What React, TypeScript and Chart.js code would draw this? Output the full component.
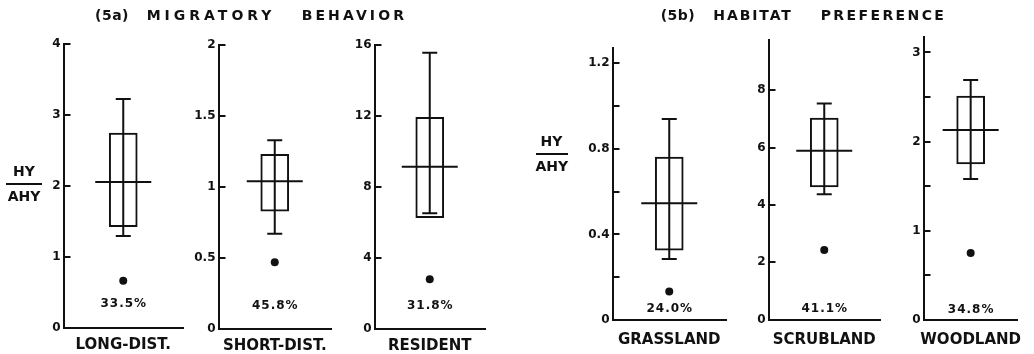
import React, { useEffect, useRef } from 'react';
import { Chart, registerables } from 'chart.js';

Chart.register(...registerables);

// Box-plot summaries of the HY/AHY ratio, one entry per panel
const CATEGORIES = ['LONG-DIST.', 'SHORT-DIST.', 'RESIDENT', 'GRASSLAND', 'SCRUBLAND', 'WOODLAND'];
const WHISKER_LOW = [1.3, 0.67, 6.52, 0.285, 4.37, 1.58];
const BOX_LOW = [1.43, 0.83, 6.27, 0.326, 4.63, 1.75];
const MEDIAN = [2.06, 1.04, 9.14, 0.546, 5.89, 2.13];
const BOX_HIGH = [2.75, 1.23, 11.93, 0.761, 7.03, 2.51];
const WHISKER_HIGH = [3.23, 1.33, 15.57, 0.94, 7.54, 2.69];
const POINT_VALUE = [0.67, 0.47, 2.8, 0.133, 2.43, 0.75];
const PERCENT_LABELS = ['33.5%', '45.8%', '31.8%', '24.0%', '41.1%', '34.8%'];

// Y axes
const Y_MAX = [4, 2, 16, 1.27, 9.75, 3.17];
const Y_TICKS = [
  [0, 1, 2, 3, 4],
  [0, 0.5, 1, 1.5, 2],
  [0, 4, 8, 12, 16],
  [0, 0.2, 0.4, 0.6, 0.8, 1.0, 1.2],
  [0, 2, 4, 6, 8],
  [0, 0.5, 1, 1.5, 2, 2.5, 3],
];
const Y_TICK_LABELS = [
  ['0', '1', '2', '3', '4'],
  ['0', '0.5', '1', '1.5', '2'],
  ['0', '4', '8', '12', '16'],
  ['0', '', '0.4', '', '0.8', '', '1.2'],
  ['0', '2', '4', '6', '8'],
  ['0', '', '1', '', '2', '', '3'],
];

// Page geometry
const W = 1034;
const H = 354;
const INK = '#111';
const FONT = '"DejaVu Sans", sans-serif';
const Y_AXIS_WIDTH = 30;

const PANELS = [
  { left: 63.5, right: 183, top: 44.3, bottom: 328.3, pctOffset: 24, labelPad: 8 },
  { left: 218.5, right: 331, top: 45, bottom: 329, pctOffset: 23, labelPad: 8 },
  { left: 374.5, right: 485, top: 45, bottom: 329, pctOffset: 23, labelPad: 8 },
  { left: 612.5, right: 726, top: 48.3, bottom: 320, pctOffset: 11.5, labelPad: 11 },
  { left: 768.5, right: 880, top: 40, bottom: 319.7, pctOffset: 10.5, labelPad: 11 },
  { left: 923.5, right: 1034, top: 37.3, bottom: 320, pctOffset: 10.5, labelPad: 11 },
];

const BOX_WIDTH = 28;
const CAP_HALF = 7.5;
const MEDIAN_HALF = 28;
const TICK_LEN = 7;

function boxPlotPlugin(i: number, pctOffset: number) {
  return {
    id: 'boxPlotExtras' + i,
    afterDatasetsDraw(chart: any) {
      const { ctx, chartArea, scales } = chart;
      const x = scales.x;
      const y = scales.y;
      const cx = x.getPixelForValue(0);
      const yLo = y.getPixelForValue(WHISKER_LOW[i]);
      const yHi = y.getPixelForValue(WHISKER_HIGH[i]);
      const yMed = y.getPixelForValue(MEDIAN[i]);
      ctx.save();
      ctx.strokeStyle = INK;
      ctx.lineWidth = 2;
      ctx.lineCap = 'butt';
      ctx.beginPath();
      // whisker stem and caps
      ctx.moveTo(cx, yLo);
      ctx.lineTo(cx, yHi);
      ctx.moveTo(cx - CAP_HALF, yHi);
      ctx.lineTo(cx + CAP_HALF, yHi);
      ctx.moveTo(cx - CAP_HALF, yLo);
      ctx.lineTo(cx + CAP_HALF, yLo);
      // median bar
      ctx.moveTo(cx - MEDIAN_HALF, yMed);
      ctx.lineTo(cx + MEDIAN_HALF, yMed);
      ctx.stroke();

      // percentage label
      ctx.fillStyle = INK;
      ctx.font = 'bold 12px ' + FONT;
      (ctx as any).letterSpacing = '1px';
      ctx.textAlign = 'center';
      ctx.textBaseline = 'middle';
      ctx.fillText(PERCENT_LABELS[i], cx + 0.5, chartArea.bottom - pctOffset);
      ctx.restore();
    },
    afterDraw(chart: any) {
      const { ctx, chartArea, scales } = chart;
      const y = scales.y;
      ctx.save();
      ctx.strokeStyle = INK;
      ctx.lineWidth = 2;
      ctx.beginPath();
      for (const v of Y_TICKS[i]) {
        const py = Math.round(y.getPixelForValue(v));
        ctx.moveTo(chartArea.left, py);
        ctx.lineTo(chartArea.left + TICK_LEN, py);
      }
      ctx.stroke();
      ctx.restore();
    },
  };
}

function Panel({ index }: { index: number }) {
  const ref = useRef<HTMLCanvasElement>(null);
  useEffect(() => {
    const p = PANELS[index];
    const chart = new Chart(ref.current as HTMLCanvasElement, {
      type: 'bar',
      data: {
        labels: [CATEGORIES[index]],
        datasets: [
          {
            type: 'bar',
            data: [[BOX_LOW[index], BOX_HIGH[index]]] as any,
            backgroundColor: '#fff',
            borderColor: INK,
            borderWidth: 2,
            borderSkipped: false,
            barThickness: BOX_WIDTH,
          },
          {
            type: 'line',
            data: [POINT_VALUE[index]],
            showLine: false,
            pointRadius: 4,
            pointBackgroundColor: INK,
            pointBorderWidth: 0,
          } as any,
        ],
      },
      options: {
        responsive: false,
        animation: false,
        devicePixelRatio: 1,
        events: [],
        layout: {
          padding: { left: p.left - Y_AXIS_WIDTH, right: W - p.right, top: p.top, bottom: 0 },
        },
        plugins: { legend: { display: false }, tooltip: { enabled: false } },
        scales: {
          x: {
            type: 'category',
            offset: true,
            grid: { display: false, drawTicks: false },
            border: { display: true, color: INK, width: 2 },
            ticks: { padding: p.labelPad, color: INK, font: { size: 15, family: FONT, weight: 'bold' } },
            afterFit: (s: any) => {
              s.height = H - p.bottom;
            },
          },
          y: {
            type: 'linear',
            min: 0,
            max: Y_MAX[index],
            grid: { display: false, drawTicks: false },
            border: { display: true, color: INK, width: 2 },
            ticks: {
              padding: 3,
              color: INK,
              font: { size: 12, family: FONT, weight: 'bold' },
              callback: (_v: any, i: number) => Y_TICK_LABELS[index][i],
            },
            afterBuildTicks: (s: any) => {
              s.ticks = Y_TICKS[index].map((v) => ({ value: v }));
            },
            afterFit: (s: any) => {
              s.width = Y_AXIS_WIDTH;
            },
          },
        },
      } as any,
      plugins: [boxPlotPlugin(index, p.pctOffset)],
    });
    return () => chart.destroy();
  }, [index]);
  return (
    <canvas
      ref={ref}
      width={W}
      height={H}
      style={{ position: 'absolute', left: 0, top: 0, width: W, height: H }}
    />
  );
}

function Text({ x, y, size, spacing = 0, bold = true, children }: any) {
  return (
    <div
      style={{
        position: 'absolute',
        left: x,
        top: y,
        transform: 'translateY(-50%)',
        fontFamily: FONT,
        fontSize: size,
        fontWeight: bold ? 'bold' : 'normal',
        letterSpacing: spacing,
        lineHeight: 1,
        whiteSpace: 'nowrap',
        color: INK,
      }}
    >
      {children}
    </div>
  );
}

function RatioLabel({ cx, lineY, width }: { cx: number; lineY: number; width: number }) {
  return (
    <div style={{ position: 'absolute', left: cx - width / 2, top: lineY - 22, width, fontFamily: FONT, color: INK }}>
      <div style={{ fontSize: 14, fontWeight: 'bold', lineHeight: '18px', textAlign: 'center', height: 21 }}>HY</div>
      <div style={{ borderTop: `2px solid ${INK}`, width }} />
      <div style={{ fontSize: 14, fontWeight: 'bold', lineHeight: '18px', textAlign: 'center', marginTop: 2 }}>AHY</div>
    </div>
  );
}

export default function App() {
  return (
    <div style={{ position: 'fixed', left: 0, top: 0, width: W, height: H, background: '#fff', overflow: 'hidden' }}>
      {CATEGORIES.map((_, i) => (
        <Panel key={i} index={i} />
      ))}
      <Text x={95} y={15} size={14} spacing={0.5}>(5a)</Text>
      <Text x={146.7} y={15} size={14} spacing={4}>MIGRATORY</Text>
      <Text x={301.7} y={15} size={14} spacing={3.1}>BEHAVIOR</Text>
      <Text x={660.7} y={15} size={14} spacing={0.5}>(5b)</Text>
      <Text x={713.3} y={15} size={14} spacing={1.9}>HABITAT</Text>
      <Text x={820.7} y={15} size={14} spacing={2.4}>PREFERENCE</Text>
      <RatioLabel cx={24} lineY={184} width={36} />
      <RatioLabel cx={551.5} lineY={154} width={32} />
    </div>
  );
}
